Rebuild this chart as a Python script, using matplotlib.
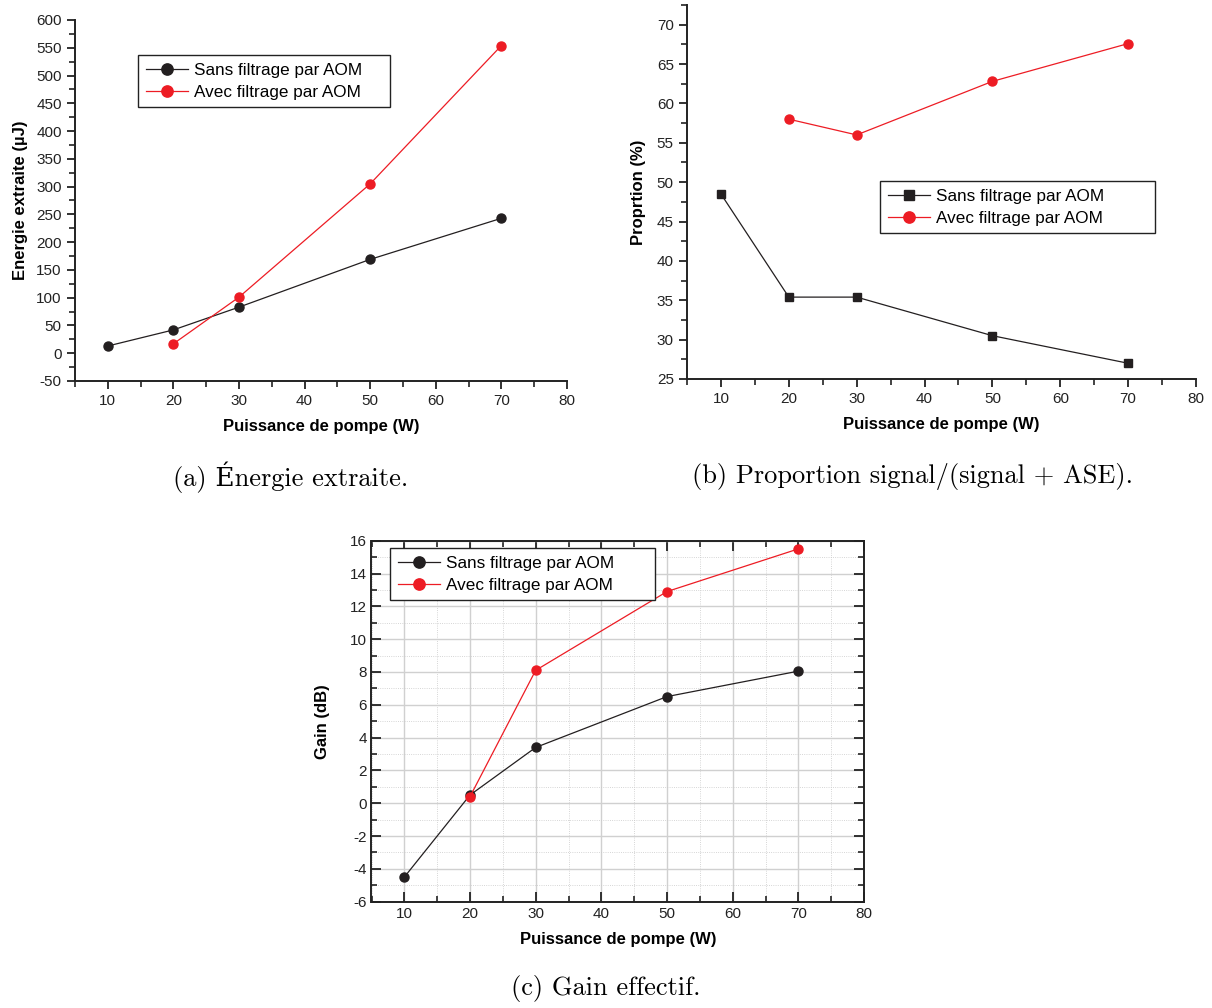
import numpy as np
import matplotlib
matplotlib.use('Agg')
import matplotlib.pyplot as plt
from matplotlib.ticker import MultipleLocator

plt.rcParams['font.family'] = ['Liberation Sans', 'DejaVu Sans']
plt.rcParams['axes.unicode_minus'] = False

# Puissance de pompe (W)
power_sans = [10, 20, 30, 50, 70]
power_avec = [20, 30, 50, 70]

# (a) energie extraite (uJ)
energy_sans = [13, 42, 83, 169, 243]
energy_avec = [17, 101, 305, 554]

# (b) proportion signal/(signal + ASE) (%)
prop_sans = [48.5, 35.4, 35.4, 30.5, 27.0]
prop_avec = [58.0, 56.0, 62.8, 67.6]

# (c) gain effectif (dB)
gain_sans = [-4.5, 0.5, 3.4, 6.5, 8.05]
gain_avec = [0.4, 8.1, 12.9, 15.5]

label_sans = 'Sans filtrage par AOM'
label_avec = 'Avec filtrage par AOM'
xlabel = 'Puissance de pompe (W)'

black = '#231f20'
red = '#ed1c24'
W, H = 1212, 1008


def box(l, t, r, b):
    return [l / W, 1 - b / H, (r - l) / W, (b - t) / H]


def style(ax, framed=False):
    ax.set_xlim(5, 80)
    ax.xaxis.set_major_locator(MultipleLocator(10))
    ax.xaxis.set_minor_locator(MultipleLocator(5))
    for s in ax.spines.values():
        s.set_linewidth(1.4)
        s.set_color('#222222')
    if framed:
        ax.tick_params(which='both', direction='in', top=True, right=True,
                       color='#222222', labelsize=11, labelcolor='#222222')
        ax.tick_params(which='major', length=7, width=1.3)
        ax.tick_params(which='minor', length=4, width=1.2)
    else:
        ax.spines['top'].set_visible(False)
        ax.spines['right'].set_visible(False)
        ax.tick_params(which='both', direction='out', color='#222222',
                       labelsize=11, labelcolor='#222222')
        ax.tick_params(which='major', length=6, width=1.3)
        ax.tick_params(which='minor', length=4, width=1.2)
    ax.set_xlabel(xlabel, fontsize=12, fontweight='bold', labelpad=8)


def legend(ax, l, t, r, b):
    bb = (l / W, 1 - b / H, (r - l) / W, (b - t) / H)
    leg = ax.legend(loc='upper left', bbox_to_anchor=bb, mode='expand',
                    bbox_transform=fig.transFigure, borderaxespad=0,
                    fancybox=False, edgecolor='#222222', framealpha=1,
                    fontsize=12.3, handlelength=2.5, handletextpad=0.3,
                    borderpad=0.45, labelspacing=0.4, markerscale=1.25)
    leg.get_frame().set_linewidth(1.0)


fig = plt.figure(figsize=(W / 100, H / 100), dpi=100)

# (a)
ax1 = fig.add_axes(box(75, 20, 567, 381))
ax1.plot(power_sans, energy_sans, '-o', color=black, lw=0.9, ms=6.5, label=label_sans)
ax1.plot(power_avec, energy_avec, '-o', color=red, lw=0.9, ms=6.5, label=label_avec)
style(ax1)
ax1.set_ylim(-50, 600)
ax1.yaxis.set_major_locator(MultipleLocator(50))
ax1.yaxis.set_minor_locator(MultipleLocator(25))
ax1.set_ylabel('Energie extraite (µJ)', fontsize=12, fontweight='bold', labelpad=6)
legend(ax1, 138, 55, 390, 108)

# (b)
ax2 = fig.add_axes(box(687, 5, 1196, 379))
ax2.plot(power_sans, prop_sans, '-s', color=black, lw=0.9, ms=6, label=label_sans)
ax2.plot(power_avec, prop_avec, '-o', color=red, lw=0.9, ms=6.5, label=label_avec)
style(ax2)
ax2.set_ylim(25, 72.5)
ax2.yaxis.set_major_locator(MultipleLocator(5))
ax2.yaxis.set_minor_locator(MultipleLocator(2.5))
ax2.set_ylabel('Proprtion (%)', fontsize=12, fontweight='bold', labelpad=8)
legend(ax2, 880, 181, 1155, 234)

# (c)
ax3 = fig.add_axes(box(371.5, 540.7, 864, 901.7))
ax3.grid(True, which='major', color='#d0d0d0', lw=1.0)
ax3.grid(True, which='minor', color='#c8c8c8', lw=0.6, ls=':')
ax3.set_axisbelow(True)
ax3.plot(power_sans, gain_sans, '-o', color=black, lw=0.9, ms=6.5, label=label_sans)
ax3.plot(power_avec, gain_avec, '-o', color=red, lw=0.9, ms=6.5, label=label_avec)
style(ax3, framed=True)
ax3.set_ylim(-6, 16)
ax3.yaxis.set_major_locator(MultipleLocator(2))
ax3.yaxis.set_minor_locator(MultipleLocator(1))
ax3.set_ylabel('Gain (dB)', fontsize=12, fontweight='bold', labelpad=14)
legend(ax3, 390, 548, 655, 599)

cap = dict(fontsize=19, ha='center', va='center', family=['cmr10', 'DejaVu Serif'])
fig.text(291 / W, 1 - 477 / H, '(a) Énergie extraite.', **cap)
fig.text(912 / W, 1 - 477 / H, '(b) Proportion signal/(signal + ASE).', **cap)
fig.text(606 / W, 1 - 988 / H, '(c) Gain effectif.', **cap)

fig.savefig('out.png', dpi=100)
